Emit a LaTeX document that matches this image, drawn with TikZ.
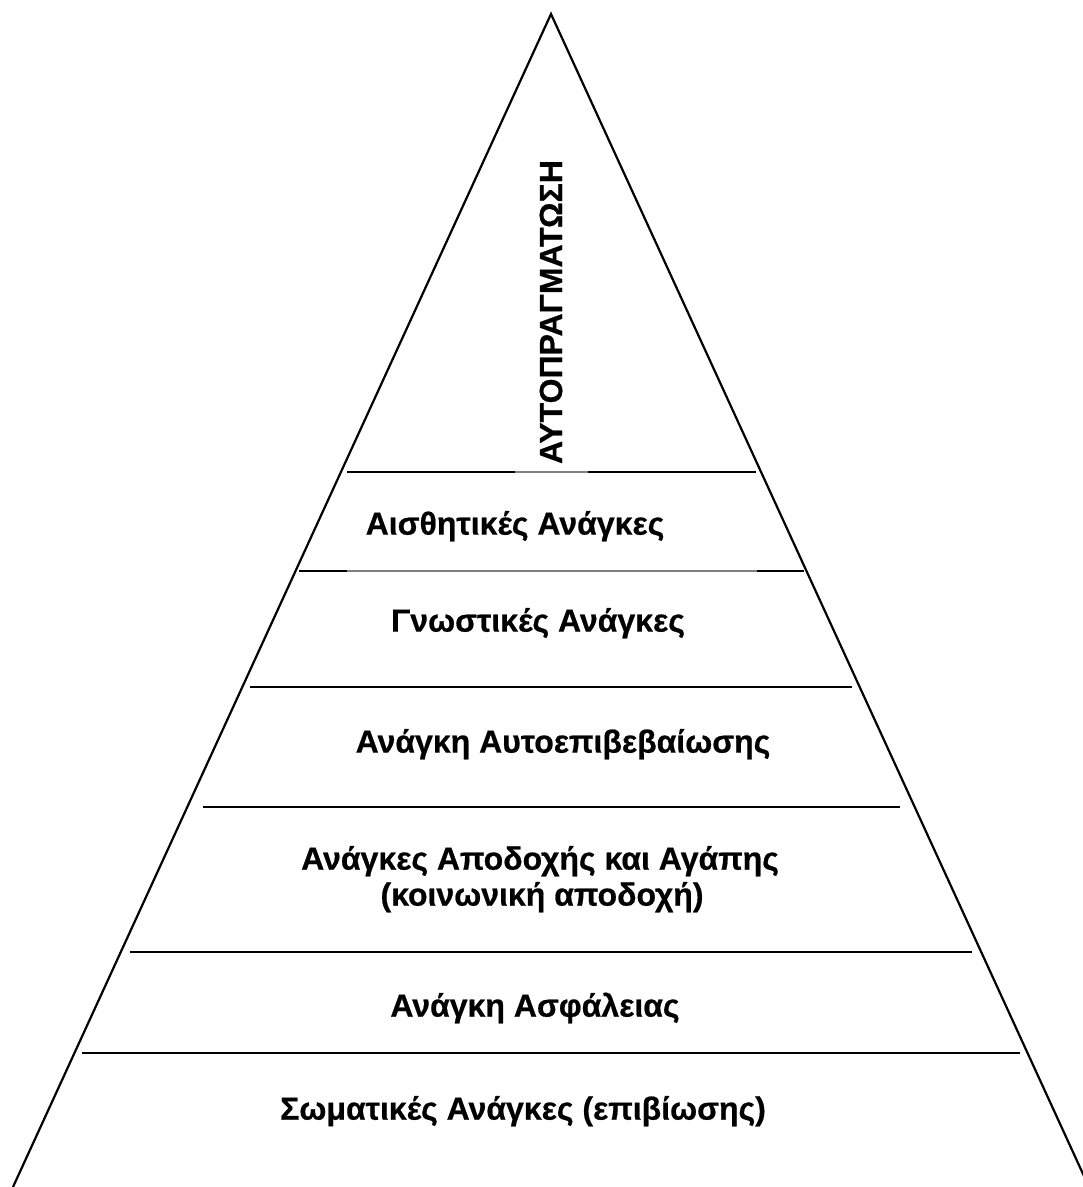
\documentclass[tikz,border=0pt]{standalone}
\usepackage{fontspec}
\setmainfont{Liberation Sans}[BoldFont={Liberation Sans Bold},BoldFeatures={FakeBold=0.6}]
\begin{document}
\begin{tikzpicture}[x=1pt,y=-1pt,
  edge/.style={line width=2.2pt,black},
  tier/.style={line width=2.4pt,black},
  faint/.style={line width=1.2pt,black!50},
  lbl/.style={font=\fontsize{32}{38}\selectfont\bfseries,anchor=mid,inner sep=0pt,align=center}]
\useasboundingbox (0,0) rectangle (1083,1187);
\clip (0,0) rectangle (1083,1187);
\fill[white] (0,0) rectangle (1083,1187);
% pyramid
\coordinate (apex) at (551,14);
\coordinate (bl) at (13,1187);
\coordinate (br) at (1089,1187);
\draw[edge,line join=miter] (bl) -- (apex) -- (br);
% tier lines
\coordinate (a1) at (347,472); \coordinate (a2) at (515,472);
\coordinate (a3) at (588,472); \coordinate (a4) at (756,472);
\draw[tier] (a1) -- (a2); \draw[faint] (a2) -- (a3); \draw[tier] (a3) -- (a4);
\coordinate (b1) at (299,571); \coordinate (b2) at (347,571);
\coordinate (b3) at (757,571); \coordinate (b4) at (804,571);
\draw[tier] (b1) -- (b2); \draw[faint] (b2) -- (b3); \draw[tier] (b3) -- (b4);
\coordinate (c1) at (250,687); \coordinate (c2) at (852,687);
\draw[tier] (c1) -- (c2);
\coordinate (d1) at (203,807); \coordinate (d2) at (900,807);
\draw[tier] (d1) -- (d2);
\coordinate (e1) at (130,952); \coordinate (e2) at (972,952);
\draw[tier] (e1) -- (e2);
\coordinate (f1) at (82,1053); \coordinate (f2) at (1020,1053);
\draw[tier] (f1) -- (f2);
% labels
\node[lbl,rotate=90,anchor=center] (top) at (551,312) {ΑΥΤΟΠΡΑΓΜΑΤΩΣΗ};
\node[lbl] (aes) at (515,532) {Αισθητικές Ανάγκες};
\node[lbl] (cog) at (538,629) {Γνωστικές Ανάγκες};
\node[lbl] (est) at (563,750) {Ανάγκη Αυτοεπιβεβαίωσης};
\node[lbl] (love) at (540,867) {Ανάγκες Αποδοχής και Αγάπης};
\node[lbl] (soc) at (542,903) {(κοινωνική αποδοχή)};
\node[lbl] (saf) at (535,1014) {Ανάγκη Ασφάλειας};
\node[lbl] (phys) at (523,1117) {Σωματικές Ανάγκες (επιβίωσης)};
\end{tikzpicture}
\end{document}
